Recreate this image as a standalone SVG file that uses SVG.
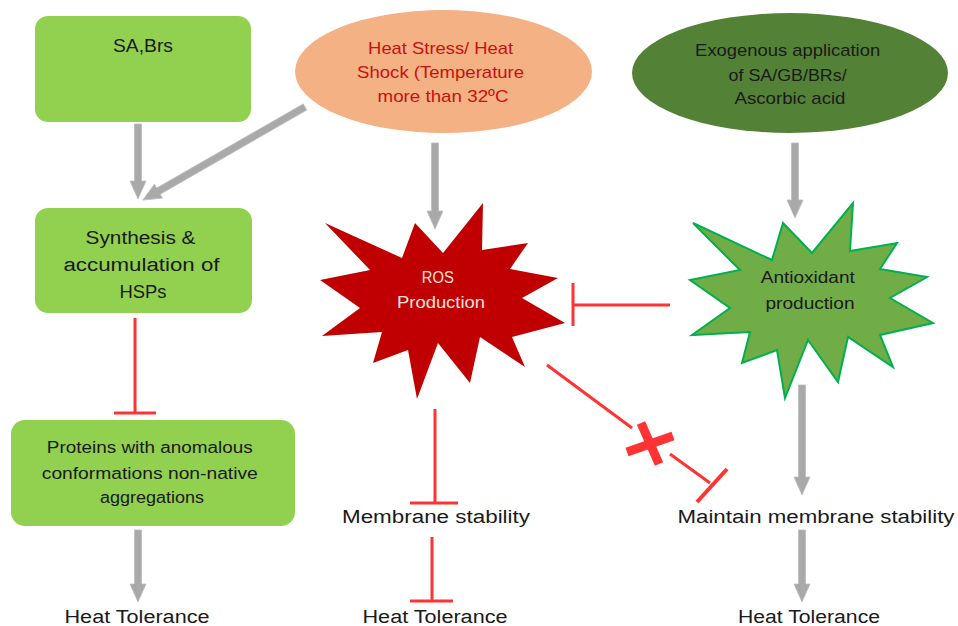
<svg xmlns="http://www.w3.org/2000/svg" width="958" height="626" viewBox="0 0 958 626">
<style>
.box{fill:#92d050;}
.t{font-family:"Liberation Sans",Arial,sans-serif;text-anchor:middle;fill:#1a1a1a;}
.g{fill:#a9a9a9;stroke:#bdbdbd;stroke-width:0.8;}
.inh{stroke:#ff3333;stroke-width:3;fill:none;stroke-linecap:butt;}
</style>
<rect width="958" height="626" fill="#ffffff"/>

<g id="connectors">
  <!-- gray arrows -->
  <path class="g" d="M134.5,124 H141.5 V181 H146 L138,199 L130,181 H134.5 Z"/>
  <g transform="translate(305,107) rotate(150.14)">
    <path class="g" d="M0,-3.5 H169 V-8 L187,0 L169,8 V3.5 H0 Z"/>
  </g>
  <path class="g" d="M431.5,143 H438.5 V211 H443 L435,229 L427,211 H431.5 Z"/>
  <path class="g" d="M791.5,143 H798.5 V200 H803 L795,218 L787,200 H791.5 Z"/>
  <path class="g" d="M134.5,530 H141.5 V584 H146 L138,602 L130,584 H134.5 Z"/>
  <path class="g" d="M798.5,385 H805.5 V477 H810 L802,495 L794,477 H798.5 Z"/>
  <path class="g" d="M798.5,530 H805.5 V584 H810 L802,602 L794,584 H798.5 Z"/>
  <!-- inhibition lines -->
  <path class="inh" d="M135,318 V413 M114,413 H156"/>
  <path class="inh" d="M670,305 H573 M573,283 V326"/>
  <path class="inh" d="M435,409 V503 M410,503 H458"/>
  <path class="inh" d="M432,537 V601 M410,601 H453"/>
  <path class="inh" d="M547,365 L632,428 M670,454 L710,483"/>
  <path class="inh" d="M727,469 L697,502" style="stroke-width:4"/>
  <path class="inh" d="M627,452 L673,436 M641,423 L659,464" style="stroke-width:9"/>
</g>

<g id="sa_brs">
  <rect class="box" x="35" y="16" width="216" height="106" rx="13"/>
  <text class="t" x="143" y="52" font-size="19" textLength="60" lengthAdjust="spacingAndGlyphs">SA,Brs</text>
</g>

<g id="heat_stress">
  <ellipse cx="443.5" cy="71.5" rx="148.5" ry="61.5" fill="#f4b183"/>
  <text class="t" font-size="17" style="fill:#c81010">
    <tspan x="443" y="54" textLength="145" lengthAdjust="spacingAndGlyphs">Heat Stress/ Heat</tspan>
    <tspan x="443" y="78" textLength="167" lengthAdjust="spacingAndGlyphs">Shock (Temperature</tspan>
    <tspan x="443" y="102" textLength="131" lengthAdjust="spacingAndGlyphs">more than 32ºC</tspan>
  </text>
</g>

<g id="exogenous">
  <ellipse cx="790" cy="73" rx="158" ry="60" fill="#538135"/>
  <text class="t" font-size="17">
    <tspan x="790" y="56" textLength="185" lengthAdjust="spacingAndGlyphs">Exogenous application</tspan>
    <tspan x="790" y="81" textLength="118" lengthAdjust="spacingAndGlyphs">of SA/GB/BRs/</tspan>
    <tspan x="790" y="104" textLength="111" lengthAdjust="spacingAndGlyphs">Ascorbic acid</tspan>
  </text>
</g>

<g id="synthesis">
  <rect class="box" x="35" y="208" width="217" height="105" rx="13"/>
  <text class="t" font-size="18">
    <tspan x="143" y="244" textLength="110" lengthAdjust="spacingAndGlyphs">Synthesis &amp;</tspan>
    <tspan x="144" y="271" textLength="156" lengthAdjust="spacingAndGlyphs">accumulation of</tspan>
    <tspan x="143" y="298" textLength="47" lengthAdjust="spacingAndGlyphs">HSPs</tspan>
  </text>
</g>

<g id="ros">
  <polygon fill="#c00000" points="325,223 402,258 415,223 443,253 483,203 482,250 528,243 510,269 558,278 522,298 565,323 512,337 525,367 480,337 470,383 438,343 417,399 408,350 373,363 382,332 322,336 360,308 320,280 370,270"/>
  <text class="t" font-size="16" style="fill:#f4e0de">
    <tspan x="440" y="283" textLength="32" lengthAdjust="spacingAndGlyphs">ROS</tspan>
    <tspan x="441" y="308" textLength="88" lengthAdjust="spacingAndGlyphs">Production</tspan>
  </text>
</g>

<g id="antioxidant">
  <polygon fill="#70ad47" stroke="#00b050" stroke-width="2" stroke-linejoin="miter" points="693,223 772,260 783,223 812,253 853,203 850,251 897,243 880,269 927,277 890,298 933,323 880,335 893,367 848,337 838,382 808,340 785,398 777,350 742,363 750,332 692,335 730,308 690,280 740,270"/>
  <text class="t" font-size="16">
    <tspan x="810" y="283" textLength="94" lengthAdjust="spacingAndGlyphs">Antioxidant</tspan>
    <tspan x="810" y="309" textLength="89" lengthAdjust="spacingAndGlyphs">production</tspan>
  </text>
</g>

<g id="proteins">
  <rect class="box" x="11" y="420" width="284" height="106" rx="14"/>
  <text class="t" font-size="16">
    <tspan x="152" y="453" textLength="206" lengthAdjust="spacingAndGlyphs">Proteins with anomalous</tspan>
    <tspan x="152" y="479" textLength="216" lengthAdjust="spacingAndGlyphs">conformations non-native</tspan>
    <tspan x="152" y="503" textLength="104" lengthAdjust="spacingAndGlyphs">aggregations</tspan>
  </text>
</g>

<g id="membrane_stability">
  <text class="t" x="436" y="523" font-size="18" textLength="188" lengthAdjust="spacingAndGlyphs">Membrane stability</text>
</g>

<g id="maintain_membrane">
  <text class="t" x="816" y="523" font-size="18" textLength="277" lengthAdjust="spacingAndGlyphs">Maintain membrane stability</text>
</g>

<g id="heat_tolerance_1">
  <text class="t" x="137" y="623" font-size="18" textLength="145" lengthAdjust="spacingAndGlyphs">Heat Tolerance</text>
</g>
<g id="heat_tolerance_2">
  <text class="t" x="435" y="623" font-size="18" textLength="145" lengthAdjust="spacingAndGlyphs">Heat Tolerance</text>
</g>
<g id="heat_tolerance_3">
  <text class="t" x="809" y="623" font-size="18" textLength="142" lengthAdjust="spacingAndGlyphs">Heat Tolerance</text>
</g>
</svg>
